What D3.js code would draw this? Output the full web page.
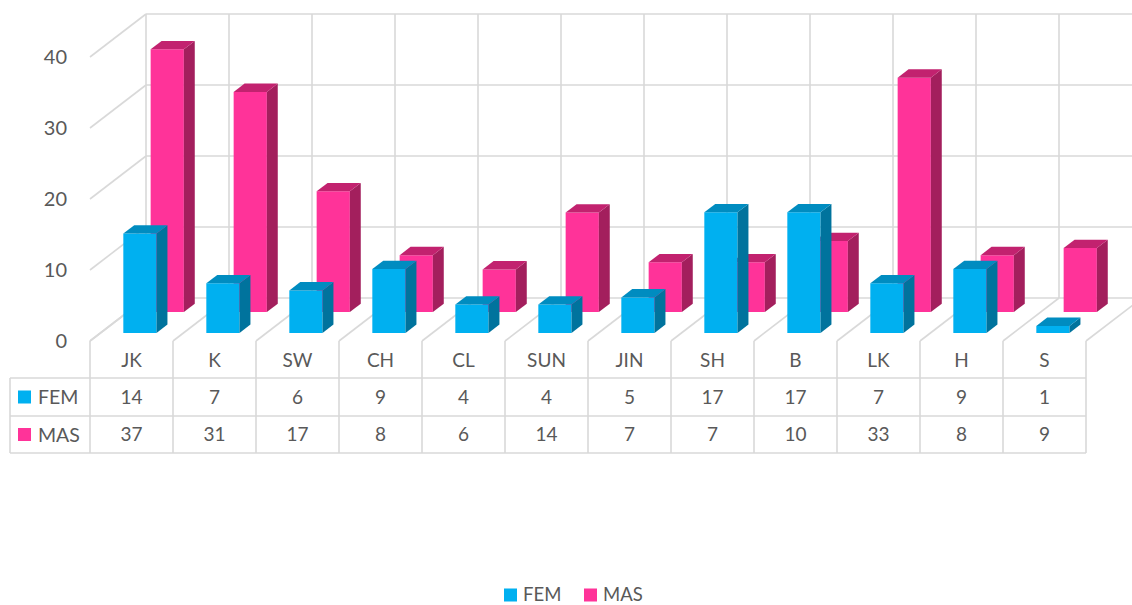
<!DOCTYPE html>
<html lang="en">
<head>
<meta charset="UTF-8">
<title>FEM / MAS</title>
<script src="https://d3js.org/d3.v7.min.js"></script>
<style>
  body { margin: 0; background: #fff; }
  svg text { font-family: Lato, "Open Sans", sans-serif; fill: #595959; }
</style>
</head>
<body>
<svg id="chart" width="1132" height="605"></svg>
<script>
// data
const categories = ["JK", "K", "SW", "CH", "CL", "SUN", "JIN", "SH", "B", "LK", "H", "S"];
const fem = [14, 7, 6, 9, 4, 4, 5, 17, 17, 7, 9, 1];
const mas = [37, 31, 17, 8, 6, 14, 7, 7, 10, 33, 8, 9];
const yTicks = [0, 10, 20, 30, 40];

const series = [
  { name: "FEM", values: fem, z0: 0.186, front: "#00B0F0", side: "#00739D", top: "#008CC0" },
  { name: "MAS", values: mas, z0: 0.674, front: "#FF3399", side: "#A31F5D", top: "#C2226F" }
];
const barDepth = 0.195;

const svg = d3.select("#chart");
const grid = "#D9D9D9";

// front-plane scales
const xCat = d3.scaleBand().domain(categories).range([90, 1086]);
const xBar = d3.scaleBand().domain(categories).range([90, 1086])
  .paddingInner(0.6).paddingOuter(0.3).align(0.46);
const y = d3.scaleLinear().domain([0, 40]).range([341, 57]);

// oblique depth offset for z in [0,1]
const depthX = 56, depthY = -43;
const proj = (x, v, z) => [x + depthX * z, y(v) + depthY * z];

const bounds = categories.map(c => xCat(c)).concat([xCat.range()[1]]);
const x0 = bounds[0], xEnd = bounds[bounds.length - 1];

const g = svg.append("g").attr("fill", "none").attr("stroke", grid).attr("stroke-width", 1.6);
const line = (a, b) => g.append("line")
  .attr("x1", a[0]).attr("y1", a[1]).attr("x2", b[0]).attr("y2", b[1]);

// back wall + side wall
yTicks.forEach(v => {
  line(proj(x0, v, 1), proj(xEnd, v, 1));
  line(proj(x0, v, 0), proj(x0, v, 1));
});
bounds.forEach(b => {
  line(proj(b, 0, 1), proj(b, 40, 1));
  line(proj(b, 0, 0), proj(b, 0, 1));
});

// bars, back row first
const poly = pts => pts.map(p => p.join(",")).join(" ");
series.slice().reverse().forEach(s => {
  const bars = svg.append("g");
  categories.forEach((c, i) => {
    const v = s.values[i];
    const a = xBar(c), b = a + xBar.bandwidth();
    const z0 = s.z0, z1 = s.z0 + barDepth;
    bars.append("polygon").attr("fill", s.front)
      .attr("points", poly([proj(a, v, z0), proj(b, v, z0), proj(b, 0, z0), proj(a, 0, z0)]));
    bars.append("polygon").attr("fill", s.side)
      .attr("points", poly([proj(b, v, z0), proj(b, v, z1), proj(b, 0, z1), proj(b, 0, z0)]));
    bars.append("polygon").attr("fill", s.top)
      .attr("points", poly([proj(a, v, z0), proj(a, v, z1), proj(b, v, z1), proj(b, v, z0)]));
  });
});

// y axis labels
svg.append("g").selectAll("text").data(yTicks).join("text")
  .attr("x", 67).attr("y", d => y(d)).attr("dy", "0.36em")
  .attr("text-anchor", "end").attr("font-size", 20)
  .text(d => d);

// data table
const rowTop = [378, 416, 453];
const t = svg.append("g").attr("stroke", grid).attr("stroke-width", 1.6);
bounds.forEach(b => t.append("line").attr("x1", b).attr("x2", b).attr("y1", 341).attr("y2", 453));
rowTop.forEach(r => t.append("line").attr("x1", 10).attr("x2", xEnd).attr("y1", r).attr("y2", r));
t.append("line").attr("x1", 10).attr("x2", 10).attr("y1", 378).attr("y2", 453);

const tbl = svg.append("g").attr("font-size", 19).attr("text-anchor", "middle");
categories.forEach(c => {
  const cx = xCat(c) + xCat.bandwidth() / 2;
  tbl.append("text").attr("x", cx).attr("y", 360).attr("dy", "0.36em").text(c);
});
series.forEach((s, k) => {
  const cy = (rowTop[k] + rowTop[k + 1]) / 2;
  categories.forEach((c, i) => {
    tbl.append("text").attr("x", xCat(c) + xCat.bandwidth() / 2).attr("y", cy)
      .attr("dy", "0.36em").text(s.values[i]);
  });
  svg.append("rect").attr("x", 18).attr("y", cy - 6.5).attr("width", 13).attr("height", 13).attr("fill", s.front);
  svg.append("text").attr("x", 38).attr("y", cy).attr("dy", "0.36em").attr("font-size", 19.5).text(s.name);
});

// legend
const legendX = [504, 584];
series.forEach((s, k) => {
  svg.append("rect").attr("x", legendX[k]).attr("y", 588.5).attr("width", 13).attr("height", 13).attr("fill", s.front);
  svg.append("text").attr("x", legendX[k] + 19).attr("y", 594).attr("dy", "0.36em")
    .attr("font-size", 18.5).text(s.name);
});
</script>
</body>
</html>
